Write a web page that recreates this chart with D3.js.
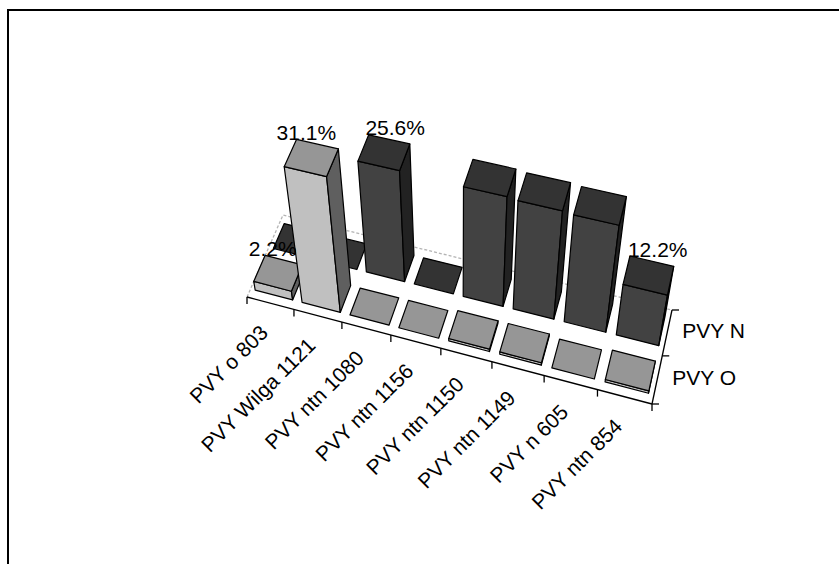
<!DOCTYPE html>
<html>
<head>
<meta charset="utf-8">
<script src="https://cdn.jsdelivr.net/npm/d3@7"></script>
<style>
  html, body { margin: 0; padding: 0; background: #fff; }
  svg { display: block; font-family: Arial, "Liberation Sans", sans-serif; }
</style>
</head>
<body>
<svg id="chart" width="839" height="564"></svg>
<script>
// ---- data -------------------------------------------------------------
const categories = ["PVY o 803", "PVY Wilga 1121", "PVY ntn 1080", "PVY ntn 1156",
                    "PVY ntn 1150", "PVY ntn 1149", "PVY n 605", "PVY ntn 854"];
const seriesNames = ["PVY O", "PVY N"];            // front row, back row
const pvyO = [2.2, 31.1, 0, 0, 0.6, 0.6, 0, 0.6];   // % per isolate
const pvyN = [0, 0, 25.6, 0, 25.3, 25.0, 24.7, 12.2];
// points that carry a value label: [series, category]
const labelledPoints = [["PVY O", "PVY o 803"], ["PVY O", "PVY Wilga 1121"],
                        ["PVY N", "PVY ntn 1080"], ["PVY N", "PVY ntn 854"]];

// ---- layout -----------------------------------------------------------
const W = 839, H = 564;
// where the corners of the plot floor sit on the page
const floorFrontLeft = [247, 297], floorFrontRight = [652, 404],
      floorBackRight = [672, 310], floorBackLeft = [283, 215];
const verticalVanish = [460, 1500];   // vertical edges converge below (camera looks down)
const lift = -0.325;                  // perspective weight of one unit of height

const seriesFill = {
  "PVY O": { front: "#c0c0c0", top: "#969696", side: "#5f5f5f" },
  "PVY N": { front: "#424242", top: "#333333", side: "#222222" }
};
// value labels sit a little left on the front row, a little right on the back row
const valueLabelShift = { "PVY O": -11, "PVY N": 6 };

// ---- perspective projection (floor homography + vertical vanishing) ---
function makeProjector(p0, p1, p2, p3, vp, k) {
  const [x0, y0] = p0, [x1, y1] = p1, [x2, y2] = p2, [x3, y3] = p3;
  const dx1 = x1 - x2, dx2 = x3 - x2, dx3 = x0 - x1 + x2 - x3;
  const dy1 = y1 - y2, dy2 = y3 - y2, dy3 = y0 - y1 + y2 - y3;
  const den = dx1 * dy2 - dx2 * dy1;
  const g = (dx3 * dy2 - dx2 * dy3) / den;
  const h = (dx1 * dy3 - dx3 * dy1) / den;
  const a = x1 - x0 + g * x1, b = x3 - x0 + h * x3, c = x0;
  const d = y1 - y0 + g * y1, e = y3 - y0 + h * y3, f = y0;
  // u: along categories (0..1), t: height, v: depth (0 front .. 1 back)
  return (u, t, v) => {
    const m = k * t;
    const nx = a * u + b * v + c + m * vp[0];
    const ny = d * u + e * v + f + m * vp[1];
    const nw = g * u + h * v + 1 + m;
    return [nx / nw, ny / nw, nw];
  };
}
const project = makeProjector(floorFrontLeft, floorFrontRight, floorBackRight,
                              floorBackLeft, verticalVanish, lift);

// ---- scales -----------------------------------------------------------
const x = d3.scaleBand().domain(categories).range([0, 1])
  .paddingInner(0.2).paddingOuter(0.1);
const z = d3.scaleBand().domain(seriesNames).range([0, 1])
  .paddingInner(0.38).paddingOuter(0.19);
const y = d3.scaleLinear().domain([0, 100]).range([0, 1]);

const svg = d3.select("#chart");
svg.append("rect").attr("width", W).attr("height", H).attr("fill", "#fff");

// outer chart border (open to the right and bottom)
svg.append("path").attr("d", `M8,${H}V10H${W}`)
  .attr("fill", "none").attr("stroke", "#000").attr("stroke-width", 2);

const line = d3.line();
const P = (u, t, v) => project(u, t, v).slice(0, 2);

// ---- floor outline behind the bars (dashed) ---------------------------
svg.append("path")
  .attr("d", line([P(0, 0, 0), P(0, 0, 1), P(1, 0, 1)]))
  .attr("fill", "none").attr("stroke", "#b4b4b4")
  .attr("stroke-width", 1.3).attr("stroke-dasharray", "3,2");

// ---- bars -------------------------------------------------------------
const values = { "PVY O": pvyO, "PVY N": pvyN };
const bars = [];
seriesNames.forEach(s => {
  categories.forEach((c, i) => {
    const u0 = x(c), u1 = u0 + x.bandwidth();
    const v0 = z(s), v1 = v0 + z.bandwidth();
    const t = y(values[s][i]);
    const depth = project((u0 + u1) / 2, 0, (v0 + v1) / 2)[2];
    bars.push({ s, c, value: values[s][i], u0, u1, v0, v1, t, depth });
  });
});
bars.sort((p, q) => q.depth - p.depth);   // far bars first

function area(pts) {
  let sum = 0;
  for (let i = 0; i < pts.length; i++) {
    const [ax, ay] = pts[i], [bx, by] = pts[(i + 1) % pts.length];
    sum += ax * by - bx * ay;
  }
  return sum / 2;
}

const barLayer = svg.append("g");
bars.forEach(b => {
  const { u0, u1, v0, v1, t } = b;
  const fill = seriesFill[b.s];
  // each face listed counter-clockwise as seen from outside the box
  const faces = [
    { kind: "side",  pts: [[u0, 0, v1], [u0, 0, v0], [u0, t, v0], [u0, t, v1]] },
    { kind: "side",  pts: [[u1, 0, v1], [u0, 0, v1], [u0, t, v1], [u1, t, v1]] },
    { kind: "front", pts: [[u0, 0, v0], [u1, 0, v0], [u1, t, v0], [u0, t, v0]] },
    { kind: "side",  pts: [[u1, 0, v0], [u1, 0, v1], [u1, t, v1], [u1, t, v0]] },
    { kind: "top",   pts: [[u0, t, v0], [u1, t, v0], [u1, t, v1], [u0, t, v1]] }
  ];
  faces.forEach(f => {
    const pts = f.pts.map(p => P(p[0], p[1], p[2]));
    if (area(pts) > -0.05) return;        // facing away or flat
    barLayer.append("path")
      .attr("d", line(pts) + "Z")
      .attr("fill", fill[f.kind])
      .attr("stroke", "#000").attr("stroke-width", 1.2)
      .attr("stroke-linejoin", "round");
  });
});

// ---- category axis (front floor edge) ---------------------------------
const axisG = svg.append("g").attr("stroke", "#000").attr("stroke-width", 1.3);
axisG.append("path").attr("fill", "none")
  .attr("d", line([P(0, 0, 0), P(1, 0, 0)]));
const catTicks = d3.range(categories.length + 1).map(i => i / categories.length);
catTicks.forEach(u => {
  const [px, py] = P(u, 0, 0);
  axisG.append("line").attr("x1", px).attr("y1", py).attr("x2", px).attr("y2", py + 7);
});

// ---- series axis (right floor edge) -----------------------------------
axisG.append("path").attr("fill", "none")
  .attr("d", line([P(1, 0, 0), P(1, 0, 1)]));
[0, 0.5, 1].forEach(v => {
  const [px, py] = P(1, 0, v);
  axisG.append("line").attr("x1", px).attr("y1", py).attr("x2", px + 7).attr("y2", py);
});

// ---- text ---------------------------------------------------------------
const fontSize = 21;

svg.append("g").selectAll("text").data(categories).join("text")
  .attr("transform", c => {
    const [px, py] = P(x(c) + x.bandwidth() / 2, 0, 0);
    return `translate(${px - 5},${py + 27}) rotate(-45)`;
  })
  .attr("text-anchor", "end")
  .attr("dominant-baseline", "middle")
  .attr("font-size", fontSize)
  .text(c => c);

svg.append("g").selectAll("text").data(seriesNames).join("text")
  .attr("x", s => P(1, 0, z(s) + z.bandwidth() / 2)[0] + 15)
  .attr("y", s => P(1, 0, z(s) + z.bandwidth() / 2)[1])
  .attr("dominant-baseline", "middle")
  .attr("font-size", fontSize)
  .text(s => s);

const fmt = d3.format(".1f");
svg.append("g").selectAll("text").data(labelledPoints).join("text")
  .each(function ([s, c]) {
    const val = values[s][categories.indexOf(c)];
    const uc = x(c) + x.bandwidth() / 2;
    const [px, py] = P(uc, y(val), z(s) + z.bandwidth());
    d3.select(this)
      .attr("x", px + valueLabelShift[s]).attr("y", py - 10)
      .attr("text-anchor", "middle")
      .attr("dominant-baseline", "middle")
      .attr("font-size", fontSize)
      .text(fmt(val) + "%");
  });
</script>
</body>
</html>
